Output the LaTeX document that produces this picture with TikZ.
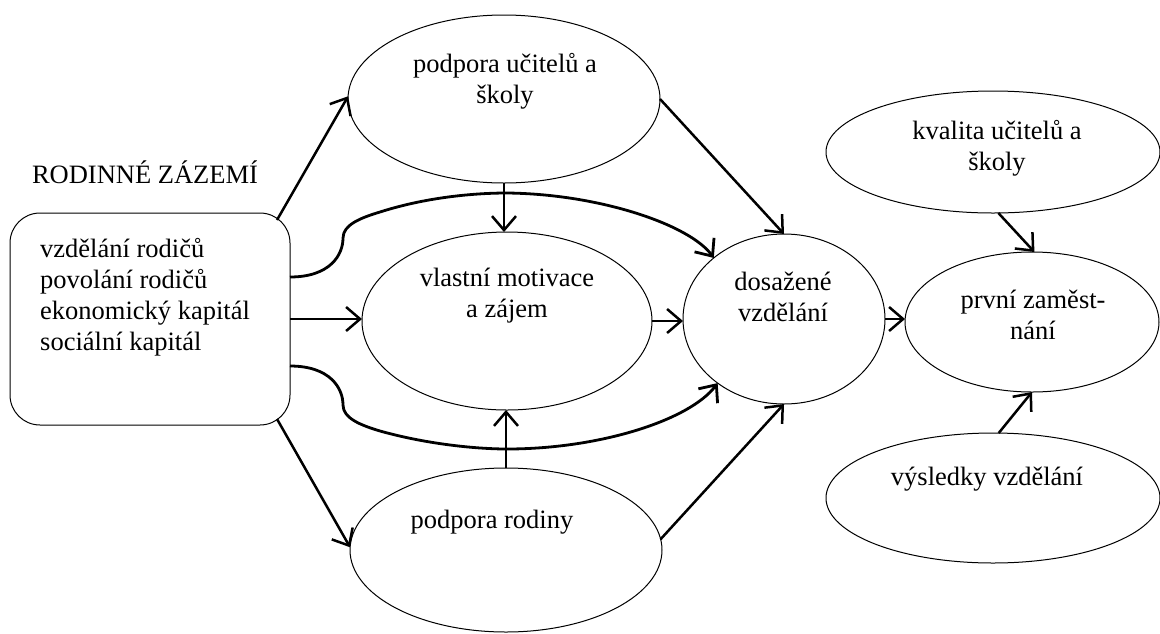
\documentclass[tikz,border=0pt]{standalone}
\usepackage{fontspec}
\setmainfont{Liberation Serif}
\usetikzlibrary{arrows.meta,shapes.geometric}
\begin{document}
\begin{tikzpicture}[x=1pt,y=-1pt,
  ell/.style={draw, ellipse, line width=1pt, inner sep=0pt, outer sep=0pt},
  famb/.style={draw, rectangle, rounded corners=30pt, line width=1pt, inner sep=0pt, outer sep=0pt},
  lbl/.style={font=\fontsize{26.5}{31}\selectfont, align=center, inner sep=0pt},
  arr/.style={line width=2.5pt, -{Straight Barb[length=14pt,width=24pt]}},
  carr/.style={line width=2.8pt, -{Straight Barb[length=14pt,width=24pt]}}]
\useasboundingbox (0,0) rectangle (1160,633);
% shapes
\node[famb, minimum width=280pt, minimum height=212pt] (box) at (150,319) {};
\node[ell, minimum width=312pt, minimum height=168pt] (pu) at (504,99) {};
\node[ell, minimum width=290pt, minimum height=178pt] (vm) at (507,321) {};
\node[ell, minimum width=312pt, minimum height=164pt] (pr) at (506,550) {};
\node[ell, minimum width=202pt, minimum height=170pt] (dos) at (784,319) {};
\node[ell, minimum width=254pt, minimum height=140pt] (prv) at (1032,322) {};
\node[ell, minimum width=334pt, minimum height=122pt] (kv) at (993,152) {};
\node[ell, minimum width=334pt, minimum height=130pt] (vy) at (993,498) {};
% texts
\node[lbl, anchor=base] (rz) at (145,183) {RODINNÉ ZÁZEMÍ};
\node[lbl, align=left, anchor=west] (boxt) at (40,297) {vzdělání rodičů\\povolání rodičů\\ekonomický kapitál\\sociální kapitál};
\node[lbl] (put) at (505,81) {podpora učitelů a\\školy};
\node[lbl] (vmt) at (507,296) {vlastní motivace\\a zájem};
\node[lbl] (dost) at (783,297) {dosažené\\vzdělání};
\node[lbl] (prvt) at (1033,315) {první zaměst-\\nání};
\node[lbl] (kvt) at (997,148) {kvalita učitelů a\\školy};
\node[lbl, anchor=base] (vyt) at (987,485) {výsledky vzdělání};
\node[lbl, anchor=base] (prt) at (492,528) {podpora rodiny};
% straight connectors
\draw[arr] ([xshift=-13pt,yshift=-7pt]box.north east) -- (pu.179);
\draw[arr] ([xshift=-13pt,yshift=6pt]box.south east) -- (pr.179);
\draw[arr] (box.east) -- (box.east -| vm.west);
\draw[arr] (pu.south) -- (pu.south |- vm.north);
\draw[arr] (pr.north) -- (pr.north |- vm.south);
\draw[arr] (vm.east) -- (vm.east -| dos.west);
\draw[arr] (pu.east) -- (dos.north);
\draw[arr] (pr.4) -- (dos.south);
\draw[arr] (dos.east) -- (dos.east -| prv.west);
\draw[arr] (kv.275) -- (prv.88);
\draw[arr] (vy.85) -- (prv.south);
% curved connectors
\draw[carr] ([yshift=42pt]box.east)
  .. controls (330,277) and (343,255) .. (343,238)
  .. controls (343,225) and (360,218) .. (380,212)
  .. controls (430,196) and (480,193) .. (507,193)
  .. controls (600,194) and (690,225) .. (dos.139);
\draw[carr] ([yshift=-47pt]box.east)
  .. controls (330,366) and (343,388) .. (343,405)
  .. controls (343,418) and (360,425) .. (380,431)
  .. controls (430,445) and (480,449) .. (507,449)
  .. controls (600,449) and (690,420) .. (dos.224);
\end{tikzpicture}
\end{document}
